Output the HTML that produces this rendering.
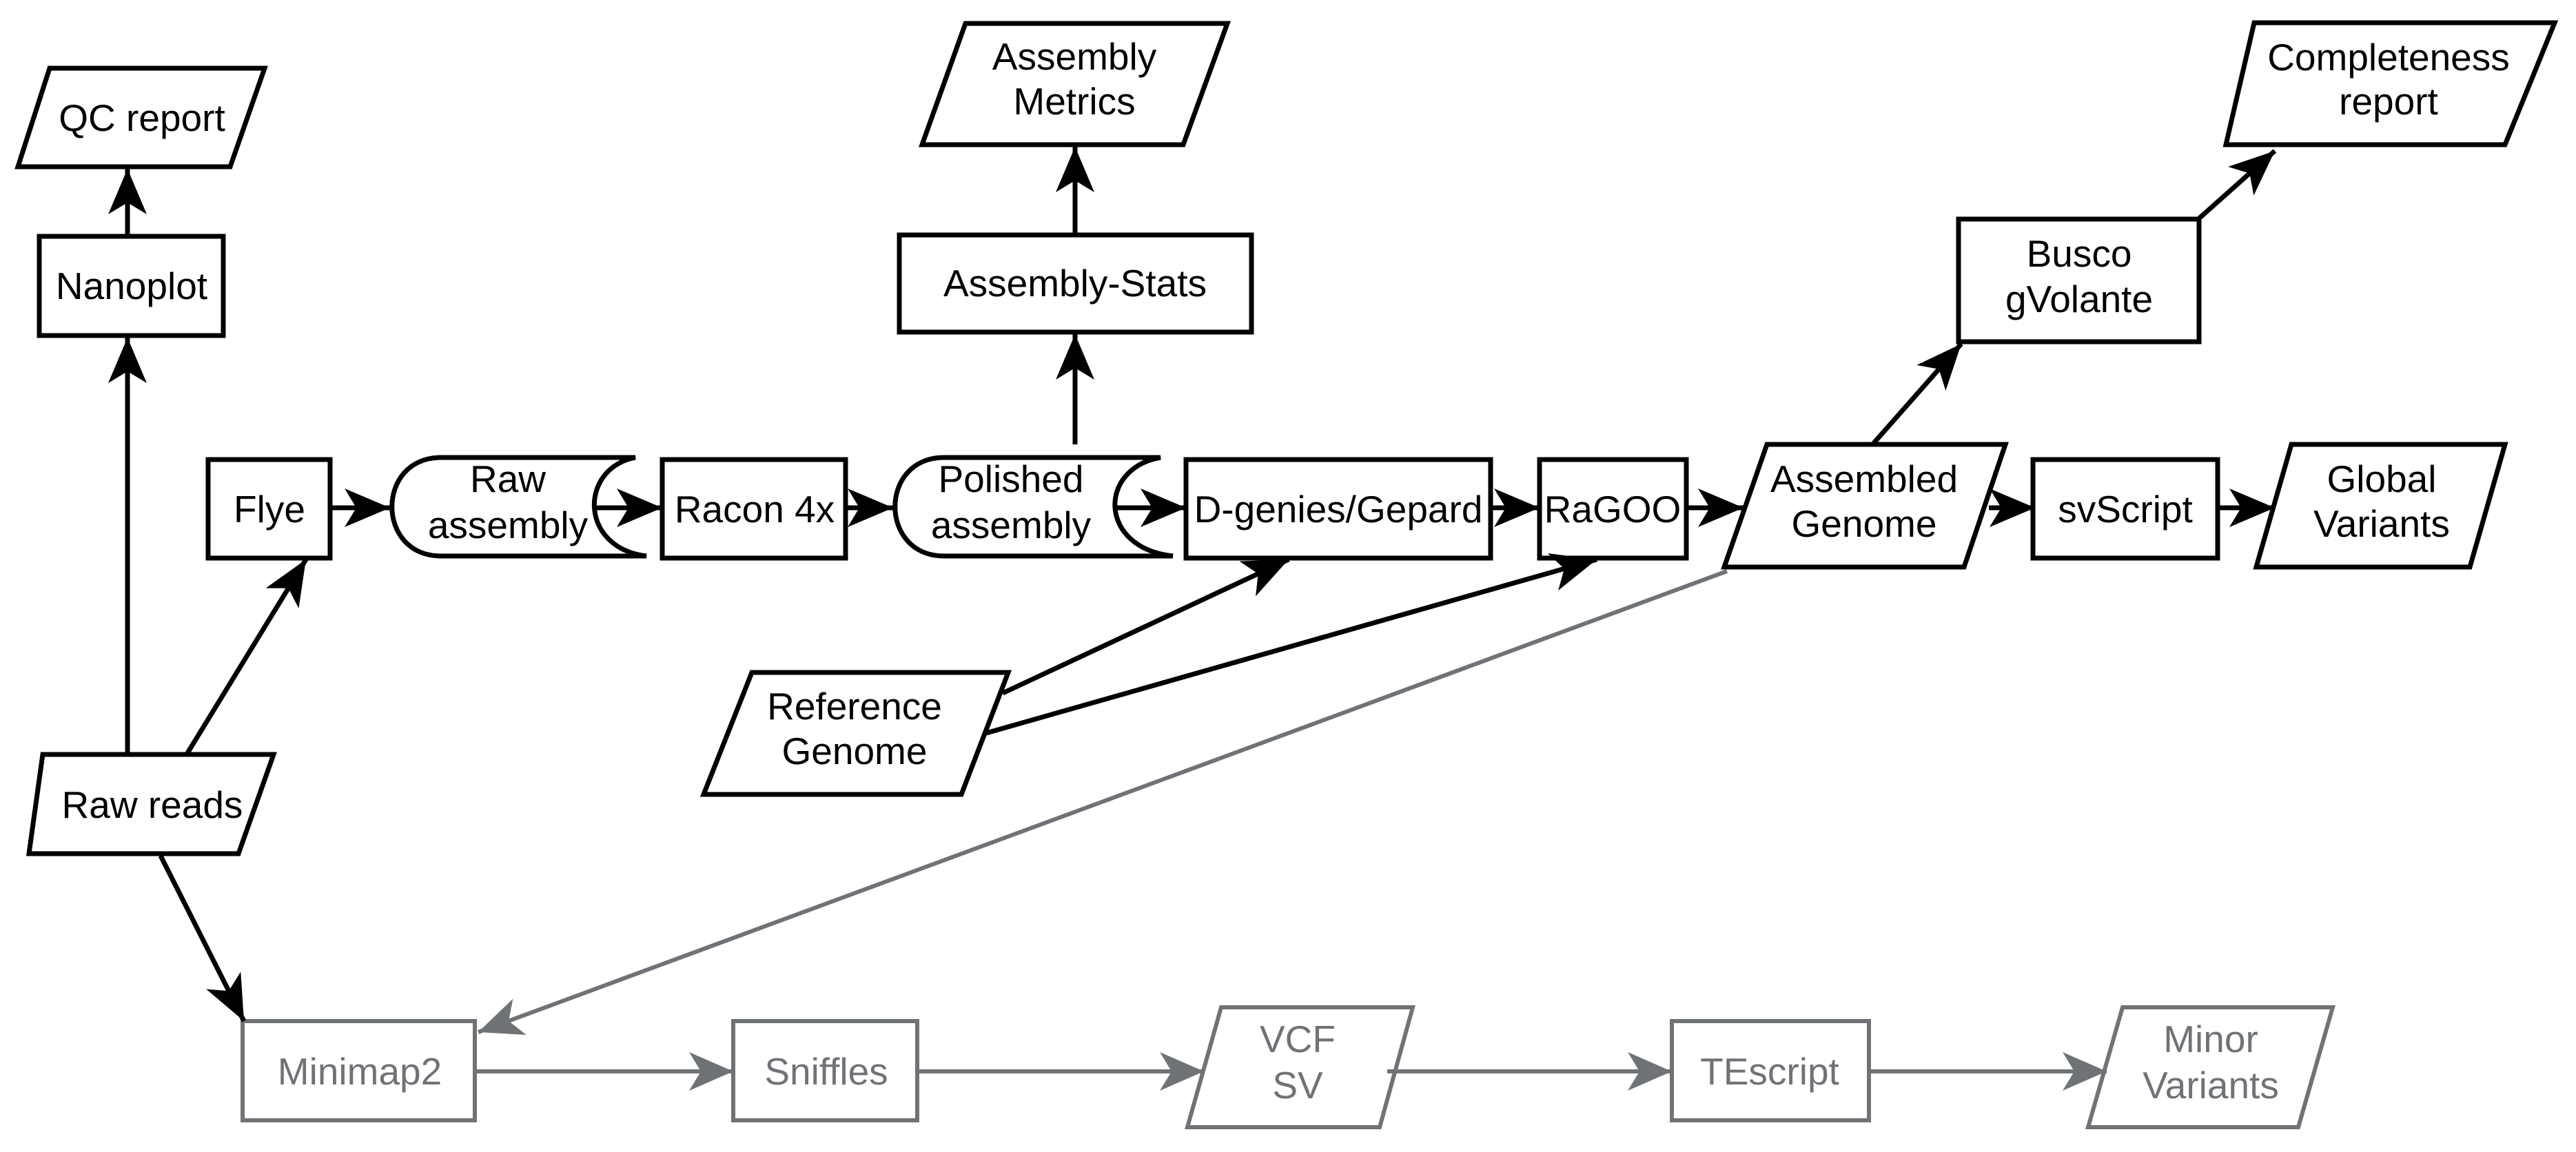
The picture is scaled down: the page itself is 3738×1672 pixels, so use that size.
<!DOCTYPE html>
<html><head><meta charset="utf-8"><style>
html,body{margin:0;padding:0;background:#fff;}
svg{display:block;}
text{font-family:"Liberation Sans",Arial,sans-serif;font-size:55px;text-anchor:middle;}
</style></head><body>
<svg width="3738" height="1672" viewBox="0 0 3738 1672" xmlns="http://www.w3.org/2000/svg">
<defs>
<marker id="ab" markerUnits="userSpaceOnUse" markerWidth="70" markerHeight="60" refX="66" refY="28" orient="auto">
<path d="M0,0 L66,28 L0,56 L17,28 Z" fill="#000"/></marker>
<marker id="ag" markerUnits="userSpaceOnUse" markerWidth="70" markerHeight="60" refX="64" refY="28" orient="auto">
<path d="M0,0 L64,28 L0,56 L17,28 Z" fill="#6f7377"/></marker>
</defs>
<g fill="#fff" stroke="#000" stroke-width="7" stroke-linejoin="miter">
<!-- QC report -->
<polygon points="72,99 384,99 334,242 26,242"/>
<rect x="57" y="343" width="267" height="144"/>
<polygon points="62,1095 397,1095 346,1239 42,1239"/>
<rect x="302" y="667" width="177" height="143"/>
<path d="M640,664 L922,664 C840,680 840,795 938,807 L640,807 C545,807 545,664 640,664 Z"/>
<rect x="961" y="667" width="266" height="143"/>
<path d="M1370,664 L1684,664 C1593,680 1593,795 1702,807 L1370,807 C1275,807 1275,664 1370,664 Z"/>
<rect x="1721" y="667" width="442" height="143"/>
<rect x="1305" y="341" width="511" height="141"/>
<polygon points="1401,34 1781,34 1717,210 1338,210"/>
<polygon points="1091,976 1463,976 1395,1153 1021,1153"/>
<rect x="2234" y="667" width="213" height="143"/>
<polygon points="2564,645 2910,645 2850,823 2502,823"/>
<rect x="2950" y="667" width="268" height="143"/>
<polygon points="3325,645 3635,645 3584,823 3274,823"/>
<rect x="2842" y="318" width="349" height="178"/>
<polygon points="3271,33 3707,33 3635,210 3230,210"/>
</g>
<g fill="#fff" stroke="#6f7377" stroke-width="6">
<rect x="352" y="1482" width="337" height="144"/>
<rect x="1064" y="1482" width="267" height="144"/>
<polygon points="1772,1462 2050,1462 2002,1636 1723,1636"/>
<rect x="2426" y="1482" width="286" height="144"/>
<polygon points="3080,1462 3385,1462 3335,1636 3030,1636"/>
</g>
<g stroke="#000" stroke-width="7" fill="none">
<line x1="185" y1="343" x2="185" y2="245" marker-end="url(#ab)"/>
<line x1="185" y1="1095" x2="185" y2="490" marker-end="url(#ab)"/>
<line x1="272" y1="1093" x2="444" y2="812" marker-end="url(#ab)"/>
<line x1="233" y1="1242" x2="354" y2="1482" marker-end="url(#ab)"/>
<line x1="479" y1="737" x2="566" y2="737" marker-end="url(#ab)"/>
<line x1="863" y1="737" x2="961" y2="737" marker-end="url(#ab)"/>
<line x1="1227" y1="737" x2="1296" y2="737" marker-end="url(#ab)"/>
<line x1="1616" y1="737" x2="1721" y2="737" marker-end="url(#ab)"/>
<line x1="1560" y1="645" x2="1560" y2="485" marker-end="url(#ab)"/>
<line x1="1560" y1="341" x2="1560" y2="213" marker-end="url(#ab)"/>
<line x1="1455" y1="1006" x2="1870" y2="812" marker-end="url(#ab)"/>
<line x1="1431" y1="1064" x2="2317" y2="812" marker-end="url(#ab)"/>
<line x1="2163" y1="737" x2="2234" y2="737" marker-end="url(#ab)"/>
<line x1="2447" y1="737" x2="2530" y2="737" marker-end="url(#ab)"/>
<line x1="2886" y1="737" x2="2953" y2="737" marker-end="url(#ab)"/>
<line x1="3218" y1="737" x2="3301" y2="737" marker-end="url(#ab)"/>
<line x1="2719" y1="643" x2="2846" y2="499" marker-end="url(#ab)"/>
<line x1="3191" y1="317" x2="3301" y2="219" marker-end="url(#ab)"/>
</g>
<g stroke="#6f7377" stroke-width="6" fill="none">
<line x1="2506" y1="829" x2="694" y2="1498" marker-end="url(#ag)"/>
<line x1="689" y1="1555" x2="1064" y2="1555" marker-end="url(#ag)"/>
<line x1="1331" y1="1555" x2="1747" y2="1555" marker-end="url(#ag)"/>
<line x1="2013" y1="1555" x2="2426" y2="1555" marker-end="url(#ag)"/>
<line x1="2712" y1="1555" x2="3057" y2="1555" marker-end="url(#ag)"/>
</g>
<g fill="#000">
<text x="206" y="190">QC report</text>
<text x="191" y="434">Nanoplot</text>
<text x="221" y="1187">Raw reads</text>
<text x="391" y="758">Flye</text>
<text x="737" y="714">Raw</text>
<text x="737" y="781">assembly</text>
<text x="1095" y="758">Racon 4x</text>
<text x="1467" y="714">Polished</text>
<text x="1467" y="781">assembly</text>
<text x="1942" y="758">D-genies/Gepard</text>
<text x="1560" y="430">Assembly-Stats</text>
<text x="1559" y="101">Assembly</text>
<text x="1559" y="166">Metrics</text>
<text x="1240" y="1044">Reference</text>
<text x="1240" y="1109">Genome</text>
<text x="2340" y="758">RaGOO</text>
<text x="2705" y="714">Assembled</text>
<text x="2705" y="779">Genome</text>
<text x="3084" y="758">svScript</text>
<text x="3456" y="714">Global</text>
<text x="3456" y="779">Variants</text>
<text x="3017" y="387">Busco</text>
<text x="3017" y="453">gVolante</text>
<text x="3466" y="102">Completeness</text>
<text x="3466" y="166">report</text>
</g>
<g fill="#6f7377">
<text x="522" y="1574">Minimap2</text>
<text x="1199" y="1574">Sniffles</text>
<text x="1883" y="1527">VCF</text>
<text x="1883" y="1594">SV</text>
<text x="2568" y="1574">TEscript</text>
<text x="3208" y="1527">Minor</text>
<text x="3208" y="1594">Variants</text>
</g>
</svg>
</body></html>
